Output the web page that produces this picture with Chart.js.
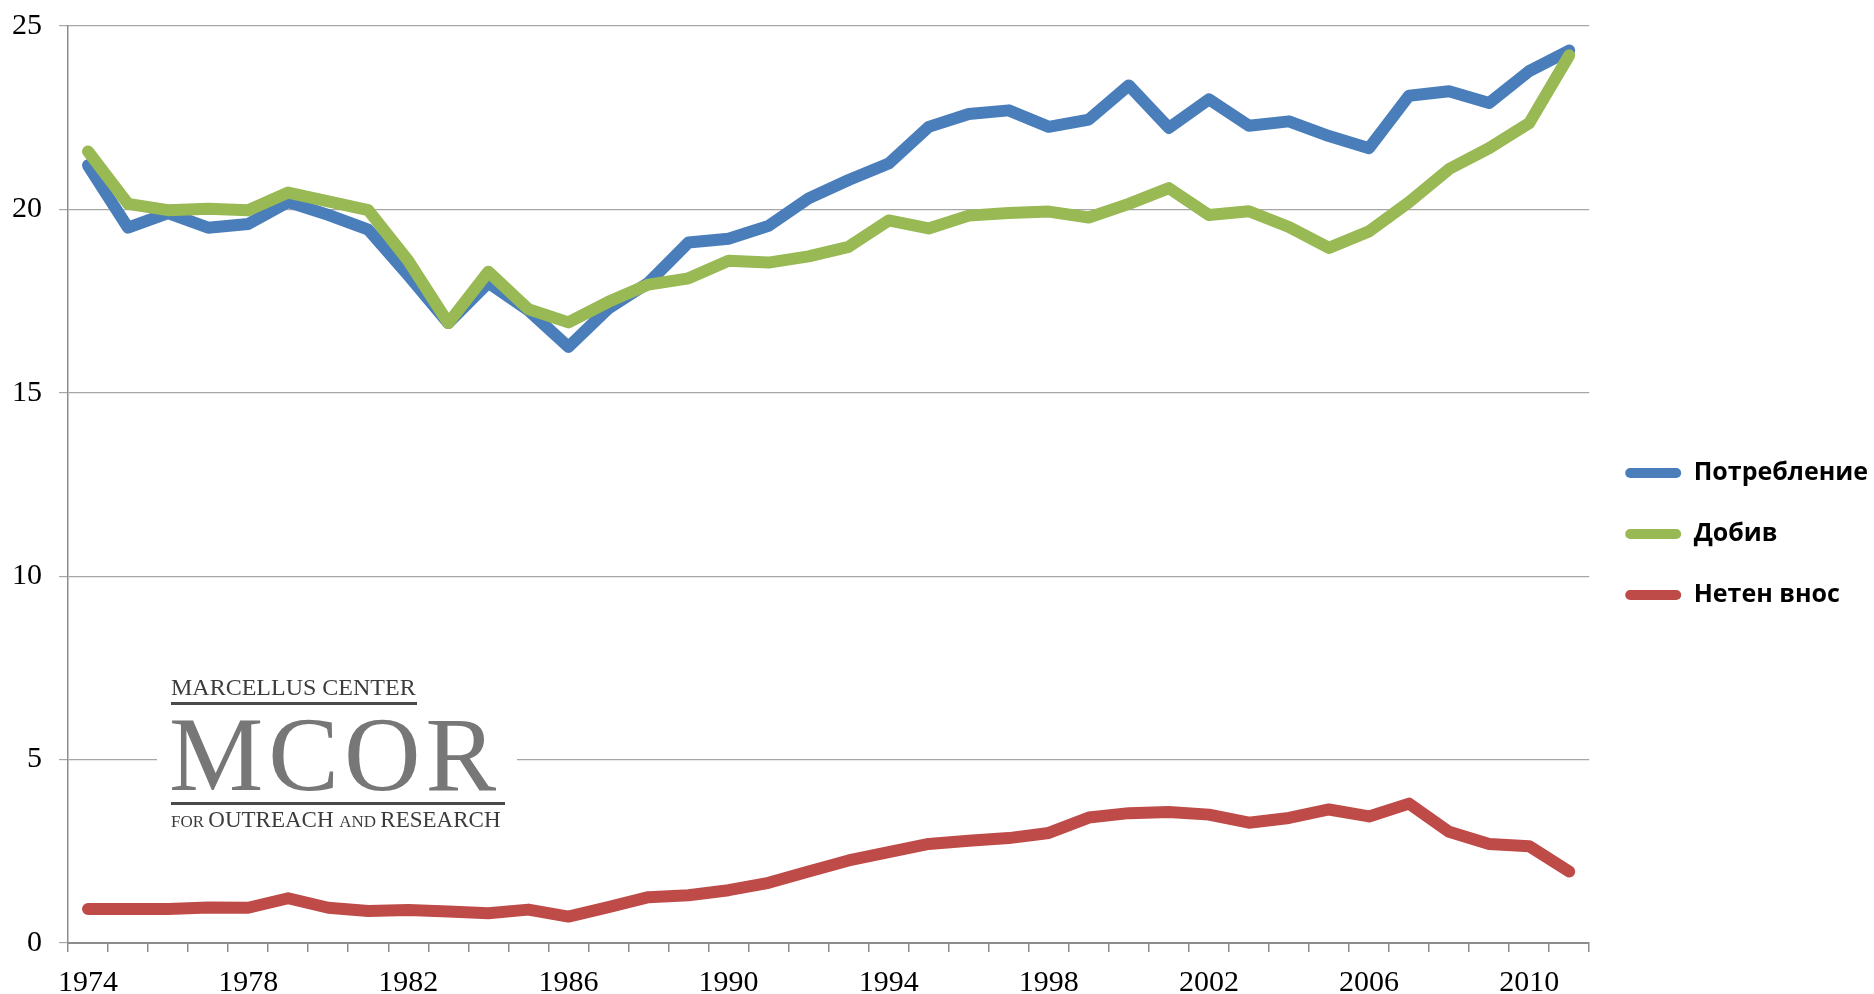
<!DOCTYPE html>
<html>
<head>
<meta charset="utf-8">
<script src="https://cdn.jsdelivr.net/npm/chart.js@4.4.1/dist/chart.umd.min.js"></script>
<style>
  html, body { margin: 0; padding: 0; background: #fff; overflow: hidden; }
  #wrap { width: 1874px; height: 994px; }
</style>
</head>
<body>
<div id="wrap"><canvas id="c" width="1874" height="994"></canvas></div>
<script>
const years = ['1974','1975','1976','1977','1978','1979','1980','1981','1982','1983',
  '1984','1985','1986','1987','1988','1989','1990','1991','1992','1993',
  '1994','1995','1996','1997','1998','1999','2000','2001','2002','2003',
  '2004','2005','2006','2007','2008','2009','2010','2011'];

const consumption = [21.2, 19.5, 19.9, 19.5, 19.6, 20.2, 19.85, 19.45, 18.2, 16.9,
  18.0, 17.25, 16.25, 17.3, 18.0, 19.1, 19.2, 19.55, 20.3, 20.8,
  21.25, 22.25, 22.6, 22.7, 22.25, 22.45, 23.38, 22.22, 23.0, 22.28,
  22.4, 22.0, 21.67, 23.1, 23.22, 22.9, 23.77, 24.33];

const production = [21.58, 20.15, 19.98, 20.02, 19.98, 20.46, 20.22, 19.98, 18.6, 16.9,
  18.3, 17.28, 16.92, 17.48, 17.95, 18.12, 18.6, 18.55, 18.72, 18.98,
  19.7, 19.48, 19.83, 19.9, 19.94, 19.78, 20.15, 20.58, 19.85, 19.95,
  19.52, 18.95, 19.4, 20.2, 21.1, 21.67, 22.35, 24.2];

const netImports = [0.93, 0.93, 0.93, 0.97, 0.96, 1.22, 0.96, 0.87, 0.9, 0.86,
  0.81, 0.91, 0.72, 0.98, 1.25, 1.3, 1.44, 1.64, 1.95, 2.25,
  2.48, 2.7, 2.79, 2.86, 3.0, 3.42, 3.54, 3.57, 3.5, 3.28,
  3.41, 3.64, 3.45, 3.8, 3.03, 2.7, 2.64, 1.95];

const seriesNames = ['Потребление', 'Добив', 'Нетен внос'];
const yTicks = [0, 5, 10, 15, 20, 25];

const logoPlugin = {
  id: 'mcorLogo',
  beforeDatasetsDraw(chart) {
    const { ctx, chartArea } = chart;
    const L = chartArea.left, T = chartArea.top;
    const x0 = L + 103;
    ctx.save();
    ctx.fillStyle = '#ffffff';
    ctx.fillRect(L + 89, T + 642, 360, 170);
    ctx.textBaseline = 'alphabetic';
    ctx.textAlign = 'left';
    ctx.fillStyle = '#3c3c3c';
    ctx.font = '24px "Liberation Serif"';
    ctx.fillText('MARCELLUS CENTER', x0, T + 669);
    ctx.fillStyle = '#4a4a4a';
    ctx.fillRect(x0, T + 676, 246, 3);
    ctx.fillStyle = '#777777';
    ctx.font = '106px "Liberation Serif"';
    try { ctx.letterSpacing = '5px'; } catch (e) {}
    ctx.fillText('MCOR', x0 - 2, T + 764);
    try { ctx.letterSpacing = '0px'; } catch (e) {}
    ctx.fillStyle = '#4a4a4a';
    ctx.fillRect(x0, T + 776, 334, 3);
    ctx.fillStyle = '#3c3c3c';
    const parts = [['FOR ', 17], ['OUTREACH ', 23], ['AND ', 17], ['RESEARCH', 23]];
    let cx = x0;
    parts.forEach(([t, s]) => {
      ctx.font = s + 'px "Liberation Serif"';
      ctx.fillText(t, cx, T + 801);
      cx += ctx.measureText(t).width;
    });
    ctx.restore();
  }
};

const colors = ['#4A7EBB', '#98B954', '#BE4B48'];

new Chart(document.getElementById('c'), {
  type: 'line',
  data: {
    labels: years,
    datasets: [
      { label: seriesNames[0], data: consumption, borderColor: colors[0], backgroundColor: colors[0], order: 2 },
      { label: seriesNames[1], data: production, borderColor: colors[1], backgroundColor: colors[1], order: 1 },
      { label: seriesNames[2], data: netImports, borderColor: colors[2], backgroundColor: colors[2], order: 0 }
    ]
  },
  options: {
    responsive: false,
    animation: false,
    devicePixelRatio: 1,
    layout: { padding: { left: 0, right: -4, top: 26, bottom: 0 } },
    elements: {
      line: { borderWidth: 12, tension: 0, borderCapStyle: 'round', borderJoinStyle: 'round', fill: false },
      point: { radius: 0, hoverRadius: 0 }
    },
    plugins: {
      tooltip: { enabled: false },
      legend: {
        position: 'right',
        align: 'center',
        title: { display: true, text: ' ', font: { size: 10 }, padding: { top: 36, bottom: 0 } },
        labels: {
          boxWidth: 56,
          boxHeight: 10,
          padding: 36,
          color: '#000000',
          useBorderRadius: true,
          borderRadius: 5,
          font: { family: '"Open Sans"', size: 25, weight: 'bold' },
          generateLabels: (chart) => chart.data.datasets.map((ds, i) => ({
            text: ds.label,
            fillStyle: ds.borderColor,
            strokeStyle: ds.borderColor,
            lineWidth: 0,
            borderRadius: 5,
            hidden: false,
            datasetIndex: i,
            fontColor: '#000000'
          }))
        }
      }
    },
    scales: {
      x: {
        type: 'category',
        offset: true,
        afterFit: (scale) => { scale.height = 51; scale.paddingLeft = 0; scale.paddingRight = 0; },
        grid: { display: true, drawOnChartArea: false, drawTicks: true, tickLength: 9, offset: true, color: '#8c8c8c', lineWidth: 1.5 },
        border: { display: true, color: '#8c8c8c', width: 2 },
        ticks: {
          autoSkip: false,
          maxRotation: 0,
          minRotation: 0,
          padding: 16,
          color: '#000000',
          font: { family: '"Liberation Serif"', size: 30, lineHeight: 1.0 },
          callback: function (v, i) { return i % 4 === 0 ? this.getLabelForValue(v) : ''; }
        }
      },
      y: {
        min: 0,
        max: 25,
        afterBuildTicks: (scale) => { scale.ticks = yTicks.map(v => ({ value: v })); },
        afterFit: (scale) => { scale.width = 68; scale.paddingTop = 0; scale.paddingBottom = 0; },
        grid: { color: '#a6a6a6', lineWidth: 1.2, tickLength: 9, drawTicks: true },
        border: { display: true, color: '#8c8c8c', width: 1.5 },
        ticks: {
          padding: 17,
          color: '#000000',
          font: { family: '"Liberation Serif"', size: 30, lineHeight: 1.2 }
        }
      }
    }
  },
  plugins: [logoPlugin]
});
</script>
</body>
</html>
